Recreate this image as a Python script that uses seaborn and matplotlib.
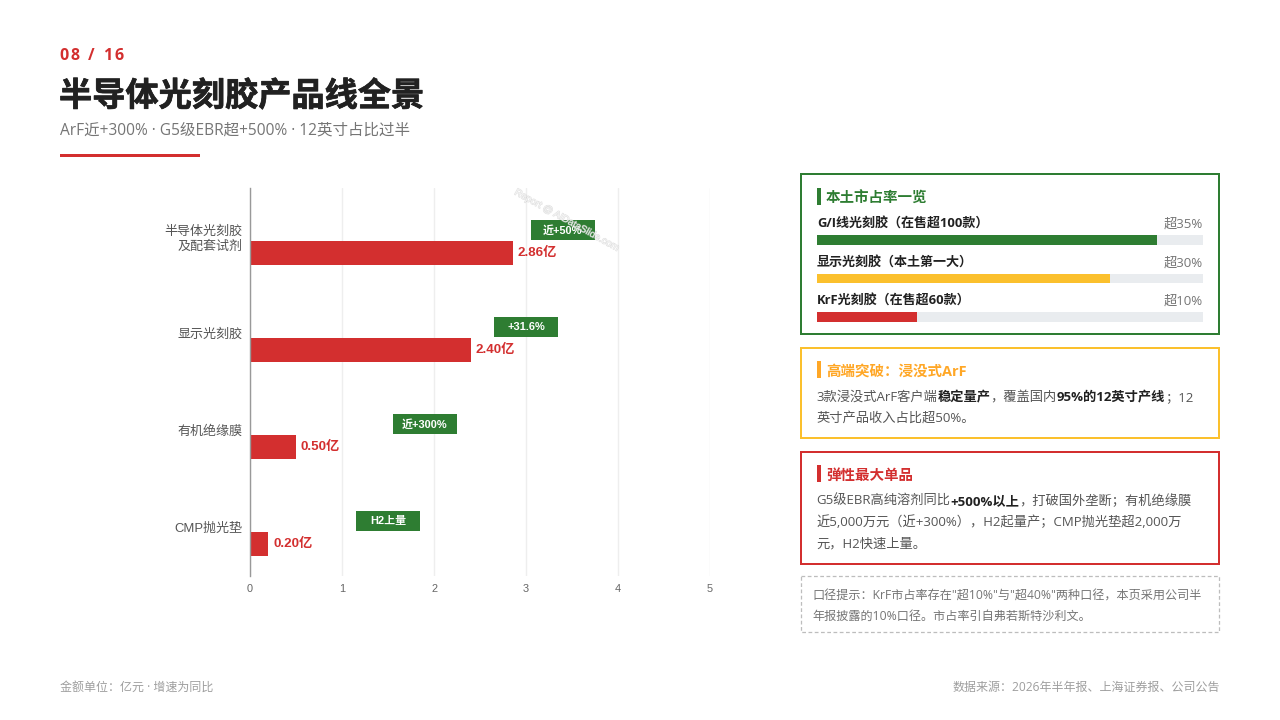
import matplotlib

matplotlib.use("Agg")

import matplotlib.patheffects as pe
import matplotlib.pyplot as plt
import pandas as pd
import seaborn as sns
from matplotlib.patches import Rectangle


RED = "#D32F2F"
GREEN = "#2E7D32"
AMBER = "#FBC02D"
ORANGE = "#FFA726"
DARK = "#212121"
BODY = "#555555"
MUTED = "#757575"
FAINT = "#9E9E9E"

categories = ["半导体光刻胶\n及配套试剂", "显示光刻胶", "有机绝缘膜", "CMP抛光垫"]
revenue = [2.86, 2.40, 0.50, 0.20]
value_labels = ["2.86亿", "2.40亿", "0.50亿", "0.20亿"]
growth_labels = ["近+50%", "+31.6%", "近+300%", "H2上量"]
growth_x = [3.4, 3.0, 1.9, 1.5]
x_ticks = [0, 1, 2, 3, 4, 5]

share_names = ["G/I线光刻胶（在售超100款）", "显示光刻胶（本土第一大）", "KrF光刻胶（在售超60款）"]
share_labels = ["超35%", "超30%", "超10%"]
share_fill = [88, 76, 26]
share_colors = [GREEN, AMBER, RED]

arf_lines = [
    [("3款浸没式ArF客户端", False), ("稳定量产", True), ("，覆盖国内", False), ("95%的12英寸产线", True), ("；12", False)],
    [("英寸产品收入占比超50%。", False)],
]
single_lines = [
    [("G5级EBR高纯溶剂同比", False), ("+500%以上", True), ("，打破国外垄断；有机绝缘膜", False)],
    [("近5,000万元（近+300%），H2起量产；CMP抛光垫超2,000万", False)],
    [("元，H2快速上量。", False)],
]
note_lines = [
    "口径提示：KrF市占率存在\"超10%\"与\"超40%\"两种口径，本页采用公司半",
    "年报披露的10%口径。市占率引自弗若斯特沙利文。",
]

sns.set_theme(style="white")
plt.rcParams["font.family"] = ["Open Sans", "Noto Sans CJK SC", "DejaVu Sans"]
CHART_FONT = ["Liberation Sans", "Noto Sans CJK SC", "DejaVu Sans"]

fig = plt.figure(figsize=(12.8, 7.2), dpi=100, facecolor="white")

# overlay in pixel coordinates for all the slide furniture
page = fig.add_axes([0, 0, 1, 1])
page.set_xlim(0, 1280)
page.set_ylim(720, 0)
page.axis("off")


def px_axes(left, top, right, bottom):
    return fig.add_axes([left / 1280, 1 - bottom / 720, (right - left) / 1280, (bottom - top) / 720])


def label(x, y, text, px=13.25, color=DARK, bold=False, ha="left", **kwargs):
    return page.text(x, y, text, fontsize=px * 0.72, color=color, ha=ha, va="baseline",
                     fontweight="bold" if bold else "normal", **kwargs)


def rich_line(x, y, parts, px=13.25):
    renderer = fig.canvas.get_renderer()
    for text, bold in parts:
        item = label(x, y, text, px=px, color=DARK if bold else BODY, bold=bold)
        x += item.get_window_extent(renderer).width


def panel(top, bottom, color, title=None, title_color=None, bar_top=None):
    page.add_patch(Rectangle((801, top), 418, bottom - top, fill=False, edgecolor=color, linewidth=1.44))
    if title:
        page.add_patch(Rectangle((817, bar_top), 3.5, 17, facecolor=title_color or color, linewidth=0))
        label(826, bar_top + 15, title, px=14.5, color=title_color or color, bold=True)


# header
x_pos = 59.5
renderer = fig.canvas.get_renderer()
for ch in "08 / 16":
    item = label(x_pos, 60, ch, px=16, color=RED, bold=True)
    x_pos += (4 if ch == " " else item.get_window_extent(renderer).width) + 2.2
headline = label(59, 106, "半导体光刻胶产品线全景", px=33.2, color=DARK, bold=True)
headline.set_path_effects([pe.withStroke(linewidth=0.5, foreground=DARK)])
label(60, 135, "ArF近+300% · G5级EBR超+500% · 12英寸占比过半", px=15.5, color=MUTED)
page.add_patch(Rectangle((60, 154), 140, 3, facecolor=RED, linewidth=0))

# main chart
ax = px_axes(250, 188, 710, 576)
ax.patch.set_alpha(0)
bars = pd.DataFrame({"category": categories, "revenue": revenue, "series": "营收"})
sns.barplot(
    data=bars,
    x="revenue",
    y="category",
    hue="series",
    hue_order=["增速", "营收"],
    palette={"增速": GREEN, "营收": RED},
    order=categories,
    width=0.68,
    gap=0.274,
    dodge=True,
    legend=False,
    saturation=1,
    linewidth=0,
    ax=ax,
)
ax.set_xlim(0, 5)
ax.set_ylim(3.5, -0.5)
ax.set_xlabel("")
ax.set_ylabel("")
ax.set_xticks(x_ticks)
ax.grid(axis="x", color="#EEEEEE", linewidth=1)
ax.grid(axis="y", visible=False)
ax.set_axisbelow(True)
for side in ["top", "right", "bottom"]:
    ax.spines[side].set_visible(False)
ax.spines["left"].set_color("#999999")
ax.spines["left"].set_linewidth(1)
ax.tick_params(axis="x", length=0, pad=6, labelsize=7.9, labelcolor="#666666")
ax.tick_params(axis="y", length=0, pad=5.5, labelsize=9.4, labelcolor=BODY)
for tick in ax.get_xticklabels():
    tick.set_fontfamily(CHART_FONT)
for tick in ax.get_yticklabels():
    tick.set_fontfamily(CHART_FONT)
    tick.set_linespacing(1.3)

ax.bar_label(ax.containers[-1], labels=value_labels, padding=3.4, color=RED, fontsize=9.6,
             fontweight="bold", family=CHART_FONT)

badge_w = 64 / 92
badge_h = 20 / 97
for row, (center, text) in enumerate(zip(growth_x, growth_labels)):
    ax.add_patch(Rectangle((center - badge_w / 2, row - 0.067 - badge_h / 2), badge_w, badge_h,
                           facecolor=GREEN, linewidth=0, zorder=4))
    ax.text(center, row - 0.067, text, color="white", fontsize=7.9, fontweight="bold", ha="center",
            va="center", family=CHART_FONT, zorder=5)

# share panel
panel(174, 334, GREEN, "本土市占率一览", bar_top=188)
for y_base, name, share in zip([228, 267, 305], share_names, share_labels):
    label(817, y_base, name, px=13, color=DARK, bold=True)
    label(1203, y_base, share, color=MUTED, ha="right")

share_ax = px_axes(817, 220.75, 1203, 336.25)
share_ax.patch.set_alpha(0)
sns.barplot(x=[100, 100, 100], y=share_names, color="#E9ECEF", saturation=1, width=0.234, linewidth=0,
            ax=share_ax)
sns.barplot(x=share_fill, y=share_names, hue=share_names, palette=share_colors, saturation=1,
            width=0.234, linewidth=0, legend=False, ax=share_ax)
share_ax.set_xlim(0, 100)
share_ax.axis("off")

# text panels
panel(348, 438, AMBER, "高端突破：浸没式ArF", title_color=ORANGE, bar_top=361)
for y_base, parts in zip([401, 422], arf_lines):
    rich_line(816.5, y_base, parts)

panel(452, 564, RED, "弹性最大单品", bar_top=465)
for y_base, parts in zip([505, 526, 547], single_lines):
    rich_line(816.5, y_base, parts)

page.add_patch(Rectangle((801, 576), 418, 56, fill=False, edgecolor="#BDBDBD", linewidth=0.9,
                         linestyle=(0, (3, 2))))
for y_base, text in zip([600, 620], note_lines):
    label(812.5, y_base, text, px=12.1, color=MUTED)

# footer
label(60, 691, "金额单位：亿元 · 增速为同比", px=12, color=FAINT)
label(1220, 691, "数据来源：2026年半年报、上海证券报、公司公告", px=12, color=FAINT, ha="right")

# watermark over the chart
mark = fig.text(567 / 1280, 1 - 220 / 720, "Report @ AIDataSlide.com", fontsize=7.1,
                color="white", alpha=0.4, rotation=-29, ha="center", va="center", family=CHART_FONT, zorder=10)
mark.set_path_effects([pe.withStroke(linewidth=0.8, foreground="#C4C4C4", alpha=0.5), pe.Normal()])

fig.savefig("out.png", dpi=100)
plt.close(fig)
